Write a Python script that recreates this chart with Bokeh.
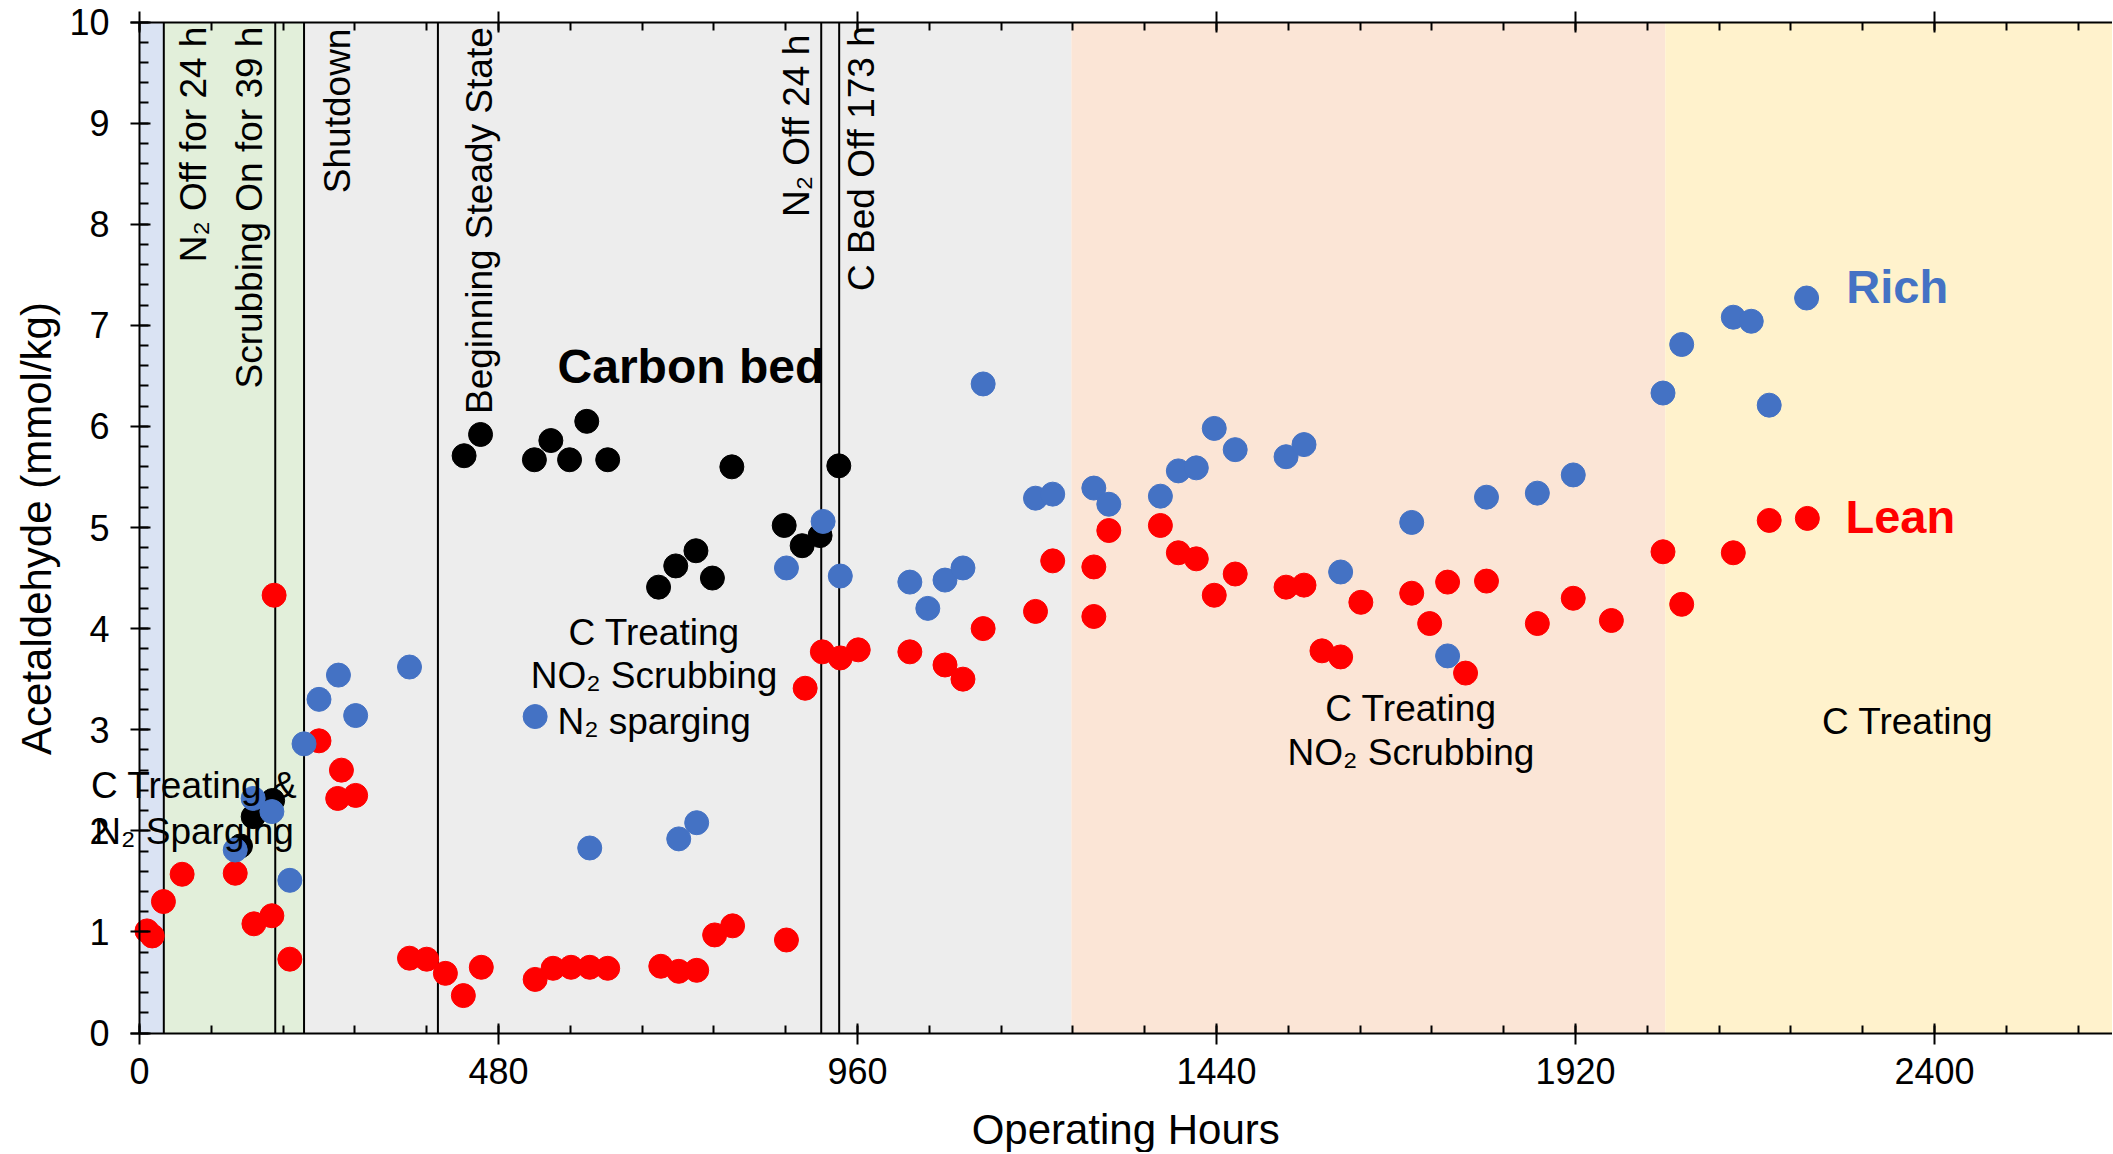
from math import pi
from bokeh.plotting import figure
from bokeh.models import Range1d, LinearAxis, SingleIntervalTicker, Label
from bokeh.embed import file_html
from bokeh.resources import INLINE

# ---------------- data ----------------
lean_hours = [10, 17, 32, 57, 128, 153, 177, 180, 201, 240, 270, 265, 289, 361, 384,
              409, 433, 457, 529, 553, 577, 602, 626, 697, 721, 745, 769, 793, 865, 890,
              913, 937, 961, 1030, 1077, 1101, 1128, 1198, 1221, 1276, 1276, 1296, 1365, 1389, 1413,
              1437, 1465, 1533, 1557, 1581, 1606, 1633, 1701, 1725, 1749, 1773, 1801, 1869, 1917, 1968,
              2037, 2062, 2131, 2179, 2230]
lean_values = [1.01, 0.96, 1.30, 1.57, 1.58, 1.08, 1.16, 4.33, 0.73, 2.89, 2.60, 2.32, 2.35, 0.74, 0.73,
               0.59, 0.37, 0.65, 0.53, 0.64, 0.65, 0.65, 0.64, 0.66, 0.61, 0.62, 0.97, 1.06, 0.92, 3.41,
               3.77, 3.71, 3.79, 3.77, 3.64, 3.50, 4.00, 4.17, 4.67, 4.61, 4.12, 4.97, 5.02, 4.75, 4.69,
               4.33, 4.54, 4.41, 4.43, 3.78, 3.72, 4.26, 4.35, 4.05, 4.46, 3.56, 4.47, 4.05, 4.30, 4.08,
               4.76, 4.24, 4.75, 5.07, 5.09]

rich_hours = [128, 152, 177, 201, 220, 240, 266, 289, 361, 529, 602, 721, 745, 865, 914,
              937, 1030, 1054, 1077, 1101, 1128, 1198, 1221, 1276, 1296, 1365, 1389, 1413, 1437, 1465,
              1533, 1557, 1606, 1701, 1749, 1801, 1869, 1917, 2037, 2062, 2131, 2155, 2179, 2229]
rich_values = [1.81, 2.32, 2.19, 1.51, 2.86, 3.30, 3.54, 3.14, 3.62, 3.13, 1.83, 1.92, 2.08, 4.60, 5.06,
               4.52, 4.46, 4.20, 4.48, 4.60, 6.42, 5.29, 5.33, 5.39, 5.23, 5.31, 5.56, 5.59, 5.98, 5.77,
               5.70, 5.82, 4.56, 5.05, 3.73, 5.30, 5.34, 5.52, 6.33, 6.81, 7.08, 7.04, 6.21, 7.27]

carbon_hours = [135, 152, 178, 434, 456, 528, 550, 575, 598, 626, 694, 717, 744, 766, 792, 862, 886, 910, 935]
carbon_values = [1.85, 2.14, 2.30, 5.71, 5.92, 5.67, 5.86, 5.67, 6.05, 5.67, 4.41, 4.62, 4.77, 4.50, 5.60,
                 5.02, 4.82, 4.92, 5.61]

phase_start = [0, 32.5, 220, 1246, 2040]
phase_end = [32.5, 220, 1246, 2040, 2640]
phase_colors = ["#DAE3F3", "#E2EFDA", "#EDEDED", "#FBE5D6", "#FFF2CC"]

event_hours = [32.5, 181.5, 220, 399, 911.5, 935.5]

x_ticks_interval = 480
y_ticks_interval = 1
y_min, y_max = 0, 10

FONT = "Liberation Sans"

# ---------------- figure ----------------
# The frame fills the whole canvas so that texts may run over the axes, as in the original;
# the axes are pinned at 0 h, 0 mmol/kg and 10 mmol/kg.
p = figure(width=2112, height=1152, output_backend="svg", toolbar_location=None,
           x_range=Range1d(-185.85, 2638), y_range=Range1d(-1.182, 10.2127),
           min_border_left=0, min_border_right=0, min_border_top=0, min_border_bottom=0,
           background_fill_color="white", border_fill_color="white")
p.outline_line_color = None
p.xgrid.visible = False
p.ygrid.visible = False

# shaded phases
p.quad(left=phase_start, right=phase_end, bottom=y_min, top=y_max, fill_color=phase_colors,
       line_color=None)

# event lines
p.segment(x0=event_hours, y0=[y_min] * len(event_hours), x1=event_hours, y1=[y_max] * len(event_hours),
          line_color="black", line_width=2)

# data
p.scatter(carbon_hours, carbon_values, size=24, fill_color="black", line_color="black")
p.scatter(lean_hours, lean_values, size=24, fill_color="#FF0000", line_color="#FF0000")
p.scatter(rich_hours, rich_values, size=24, fill_color="#4472C4", line_color="#4472C4")

# axes
def style_axis(ax):
    ax.axis_line_width = 2
    ax.axis_line_color = "black"
    ax.major_tick_line_width = 2
    ax.minor_tick_line_width = 2
    ax.major_tick_line_color = "black"
    ax.minor_tick_line_color = "black"
    ax.major_label_text_font = FONT
    ax.major_label_text_font_size = "36px"
    ax.major_label_text_color = "black"

xax = p.xaxis[0]
xax.ticker = SingleIntervalTicker(interval=x_ticks_interval, num_minor_ticks=5)
style_axis(xax)
xax.fixed_location = y_min
xax.bounds = (-12, 2638)
xax.major_tick_in = 10
xax.major_tick_out = 11
xax.minor_tick_in = 8
xax.minor_tick_out = 0
xax.major_label_standoff = 14

yax = p.yaxis[0]
yax.ticker = SingleIntervalTicker(interval=y_ticks_interval, num_minor_ticks=5)
style_axis(yax)
yax.fixed_location = 0
yax.bounds = (y_min, y_max)
yax.major_tick_in = 11
yax.major_tick_out = 9
yax.minor_tick_in = 9
yax.minor_tick_out = 0
yax.major_label_standoff = 21

top = LinearAxis(ticker=SingleIntervalTicker(interval=x_ticks_interval, num_minor_ticks=5))
style_axis(top)
top.fixed_location = y_max
top.bounds = (-12, 2638)
top.major_label_text_font_size = "1px"
top.major_label_text_color = None
top.major_label_standoff = 0
top.major_tick_in = 10
top.major_tick_out = 11
top.minor_tick_in = 8
top.minor_tick_out = 0
p.add_layout(top, "above")

# ---------------- annotations ----------------
def lab(x, y, text, size="37px", align="center", style="normal", color="black", angle=0.0):
    p.add_layout(Label(x=x, y=y, text=text, text_font=FONT, text_font_size=size,
                       text_align=align, text_baseline="middle", text_font_style=style,
                       text_color=color, angle=angle))

# axis titles
lab(1318.6, -0.957, "Operating Hours", size="42px")
lab(-137.2, 4.99, "Acetaldehyde (mmol/kg)", size="42px", angle=pi / 2)

# vertical event labels
lab(72, 9.955, "N\u2082 Off for 24 h", align="right", angle=pi / 2)
lab(147, 9.955, "Scrubbing On for 39 h", align="right", angle=pi / 2)
lab(265, 9.935, "Shutdown", align="right", angle=pi / 2)
lab(454, 9.948, "Beginning Steady State", align="right", angle=pi / 2)
lab(879, 9.874, "N\u2082 Off 24 h", align="right", angle=pi / 2)
lab(965.5, 9.958, "C Bed Off 173 h", align="right", angle=pi / 2)

# phase labels
lab(73, 2.445, "C Treating &")
lab(73, 1.992, "N\u2082 Sparging")
lab(688, 3.962, "C Treating")
lab(688, 3.534, "NO\u2082 Scrubbing")
lab(688, 3.077, "N\u2082 sparging")
lab(1700, 3.209, "C Treating")
lab(1700, 2.770, "NO\u2082 Scrubbing")
lab(2364, 3.078, "C Treating")

# series labels
lab(559, 6.59, "Carbon bed", size="48px", align="left", style="bold")
lab(2282, 7.38, "Rich", size="47px", align="left", style="bold", color="#4472C4")
lab(2281, 5.11, "Lean", size="47px", align="left", style="bold", color="#FF0000")

open("out.html", "w").write(file_html(p, INLINE))
